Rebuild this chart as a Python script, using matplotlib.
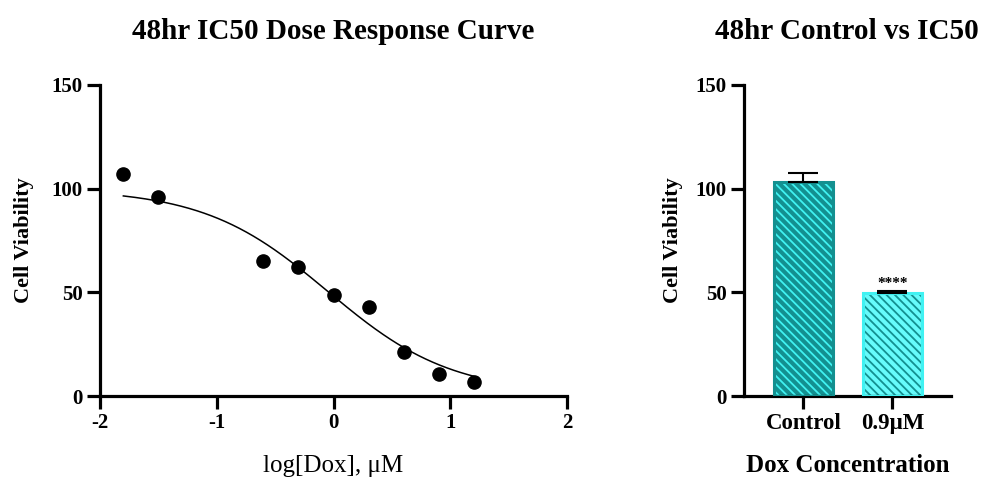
import numpy as np
import matplotlib
matplotlib.use("Agg")
import matplotlib.pyplot as plt

# ---- data ----
log_dose = [-1.8, -1.5, -0.6, -0.3, 0.0, 0.3, 0.6, 0.9, 1.2]
viability = [107.0, 96.0, 65.2, 62.4, 48.9, 43.0, 21.2, 10.8, 6.7]
# fitted 4-parameter logistic (as drawn)
fit_top, fit_bottom, fit_logic50, fit_hill = 100.0, 1.0, -0.05, 0.82

bar_labels = ["Control", "0.9\u03bcM"]
bar_values = [103.0, 49.5]
bar_errors = [4.4, 1.1]
sig_label = "****"

left_xticks = [-2, -1, 0, 1, 2]
yticks = [0, 50, 100, 150]

# ---- style ----
W, H = 983, 478
plt.rcParams["font.family"] = ["Liberation Serif", "DejaVu Serif"]
plt.rcParams["hatch.linewidth"] = 1.3
teal = "#139090"
cyan = "#40f2f2"
cyan2 = "#66fbfb"
lw = 2.3

fig = plt.figure(figsize=(W / 100, H / 100), dpi=100)

def style_axes(ax):
    for s in ["top", "right"]:
        ax.spines[s].set_visible(False)
    for s in ["left", "bottom"]:
        ax.spines[s].set_linewidth(lw)
    ax.tick_params(direction="out", length=9.4, width=lw, pad=3)
    for lab in ax.get_xticklabels() + ax.get_yticklabels():
        lab.set_fontweight("bold")

# ---- left: dose response ----
ax1 = fig.add_axes([100 / W, (H - 396) / H, 467 / W, 311 / H])
xs = np.linspace(min(log_dose), max(log_dose), 300)
ys = fit_bottom + (fit_top - fit_bottom) / (1 + 10 ** ((xs - fit_logic50) * fit_hill))
ax1.plot(xs, ys, color="black", lw=1.1, zorder=2)
ax1.plot(log_dose, viability, "o", color="black", ms=9.5, zorder=3, clip_on=False)
ax1.set_xlim(-2, 2)
ax1.set_ylim(0, 150)
ax1.set_xticks(left_xticks)
ax1.set_yticks(yticks)
ax1.set_xticklabels([str(t) for t in left_xticks], fontsize=15)
ax1.set_yticklabels([str(t) for t in yticks], fontsize=15)
style_axes(ax1)
ax1.set_title("48hr IC50 Dose Response Curve", fontsize=21, fontweight="bold", pad=33)
ax1.set_ylabel("Cell Viability", fontsize=16, fontweight="bold", va="center")
ax1.yaxis.set_label_coords(-0.162, 0.5)
ax1.set_xlabel("log[Dox], \u03bcM", fontsize=18, va="center")
ax1.xaxis.set_label_coords(0.5, -0.225)

# ---- right: bars ----
ax2 = fig.add_axes([744 / W, (H - 396) / H, 206.7 / W, 311 / H])
xpos = np.arange(len(bar_labels))
bw = 0.66
faces = [teal, cyan2]
hatchc = [cyan, teal]
edges = [teal, cyan]
for i in range(len(bar_labels)):
    ax2.bar(xpos[i], bar_values[i], width=bw, color=faces[i], edgecolor=hatchc[i],
            hatch="\\" * 4, linewidth=0, zorder=2)
    ax2.bar(xpos[i], bar_values[i], width=bw, fill=False, edgecolor=edges[i],
            linewidth=2.2, zorder=3)
    ax2.errorbar(xpos[i], bar_values[i], yerr=[[0], [bar_errors[i]]], color="black",
                 capsize=11, elinewidth=1.5, capthick=1.5, zorder=4)
ax2.text(xpos[1], bar_values[1] + bar_errors[1] + 0.5, sig_label, ha="center", va="bottom",
         fontsize=11, fontweight="bold")
ax2.set_xlim(-0.667, 1.656)
ax2.set_ylim(0, 150)
ax2.set_xticks(xpos)
ax2.set_xticklabels(bar_labels, fontsize=16.5)
ax2.set_yticks(yticks)
ax2.set_yticklabels([str(t) for t in yticks], fontsize=15)
style_axes(ax2)
ax2.set_title("48hr Control vs IC50", fontsize=21, fontweight="bold", pad=33)
ax2.set_ylabel("Cell Viability", fontsize=16, fontweight="bold", va="center")
ax2.yaxis.set_label_coords(-0.345, 0.5)
ax2.set_xlabel("Dox Concentration", fontsize=18, fontweight="bold", va="center")
ax2.xaxis.set_label_coords(0.5, -0.222)

fig.savefig("out.png", dpi=100)
